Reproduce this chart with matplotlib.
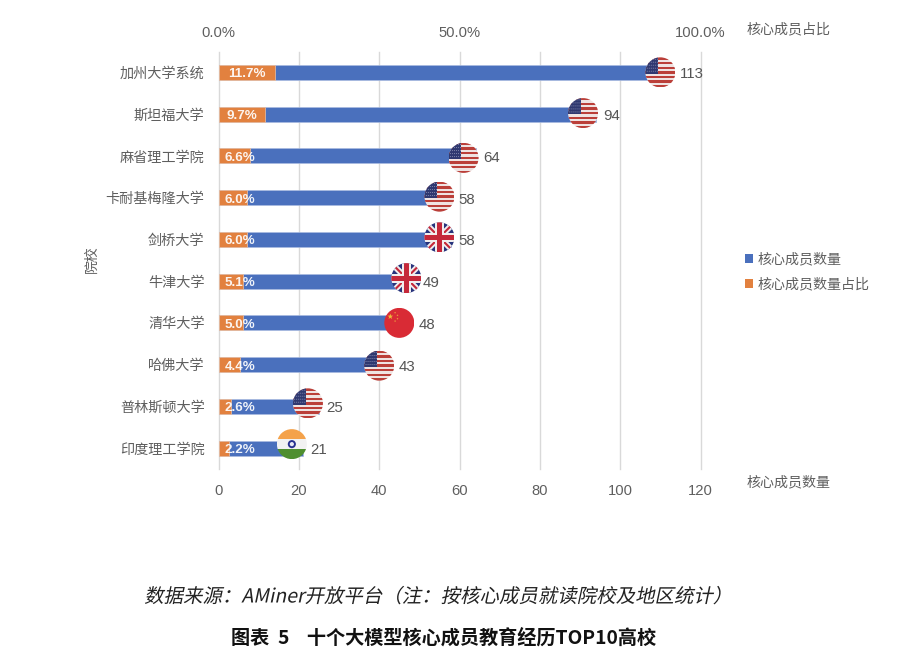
import matplotlib
matplotlib.use("Agg")
import matplotlib.pyplot as plt
from matplotlib.patches import Rectangle, Circle, Polygon
from matplotlib.path import Path
from matplotlib.transforms import Affine2D, TransformedPath
from matplotlib.patheffects import AbstractPathEffect
import numpy as np

schools = ["加州大学系统", "斯坦福大学", "麻省理工学院", "卡耐基梅隆大学", "剑桥大学",
           "牛津大学", "清华大学", "哈佛大学", "普林斯顿大学", "印度理工学院"]
members = [113, 94, 64, 58, 58, 49, 48, 43, 25, 21]
shares = [11.7, 9.7, 6.6, 6.0, 6.0, 5.1, 5.0, 4.4, 2.6, 2.2]
countries = ["us", "us", "us", "us", "uk", "uk", "cn", "us", "us", "in"]
count_ticks = [0, 20, 40, 60, 80, 100, 120]
share_ticks = [0, 50, 100]

CJK = ["Noto Sans CJK SC", "DejaVu Sans"]
LAT = ["Liberation Sans", "DejaVu Sans"]
GREY = "#5f5f5f"
BLUE = "#4a70bd"
ORANGE = "#e2813f"

W, H = 902, 666
fig = plt.figure(figsize=(W / 100, H / 100), dpi=100, facecolor="white")
L, R, T, B = 218.5, 700.5, 51.5, 469.0
ax = fig.add_axes([L / W, 1 - B / H, (R - L) / W, (B - T) / H])
ax2 = ax.twiny()
y = np.arange(len(schools))
BAR_H = 0.365

ax.barh(y, members, height=BAR_H, color=BLUE, edgecolor="#a9bbe0", linewidth=0.5, zorder=2)
ax.set_xlim(0, 120)
ax.set_ylim(len(schools) - 0.5, -0.5)
ax.set_xticks(count_ticks)
ax.set_yticks(y)
ax.set_yticklabels(schools, family=CJK, fontsize=10.2, color=GREY)
ax.tick_params(axis="y", length=0, pad=10)
ax.tick_params(axis="x", length=0, pad=10.5, labelsize=10.6, labelcolor=GREY)
for t in ax.get_xticklabels():
    t.set_family(LAT)
ax.grid(axis="x", color="#d9d9d9", linewidth=1, zorder=0)
for gl in ax.get_xgridlines():
    gl.set_clip_on(False)
ax.set_axisbelow(True)
for s in ax.spines.values():
    s.set_visible(False)

ax2.barh(y, shares, height=BAR_H, color=ORANGE, edgecolor="#f0c4a4", linewidth=0.5, zorder=3)
ax2.set_xlim(0, 100)
ax2.set_ylim(ax.get_ylim())
ax2.set_xticks(share_ticks)
ax2.set_xticklabels([f"{v:.1f}%" for v in share_ticks], family=LAT, fontsize=10.6, color=GREY)
ax2.tick_params(axis="x", length=0, pad=8)
for s in ax2.spines.values():
    s.set_visible(False)
ax2.patch.set_visible(False)

# percentage labels, centred on the orange bar but never closer than the minimum inset
for yi, p in zip(y, shares):
    ax2.text(max(p / 2, 4.5), yi + 0.05, f"{p:.1f}%", ha="center", va="center", color="white",
             fontsize=9.6, fontweight="bold", family=LAT, zorder=6, alpha=0.92)


def to_px(v, yi, dx, dy):
    px, py = ax.transData.transform((v, yi))
    return Affine2D().scale(15).translate(px + dx, py + dy)


def add(tr, clip, patch):
    patch.set_transform(tr)
    patch.set_clip_path(clip)
    patch.set_zorder(8)
    ax2.add_artist(patch)


def draw_flag(code, tr):
    clip = TransformedPath(Path.unit_circle(), tr)
    if code == "us":
        add(tr, clip, Rectangle((-1, -1), 2, 2, fc="#efe3e2", ec="none"))
        h = 2 / 13
        for i in range(0, 13, 2):
            add(tr, clip, Rectangle((-1, 1 - (i + 1) * h), 2, h, fc="#bb3f39", ec="none"))
        add(tr, clip, Rectangle((-1, 1 - 7 * h), 0.86, 7 * h, fc="#2f3870", ec="none"))
        for i in range(6):
            for j in range(5):
                add(tr, clip, Circle((-0.88 + i * 0.135, 0.88 - j * 0.2), 0.028, fc="#b8bdd6", ec="none"))
    elif code == "uk":
        add(tr, clip, Rectangle((-1, -1), 2, 2, fc="#27337c", ec="none"))
        for sgn in (1, -1):
            add(tr, clip, Polygon([(-1.1, -1.1 * sgn + 0.28 * sgn), (-1.1, -1.1 * sgn - 0.28 * sgn),
                                   (1.1, 1.1 * sgn - 0.28 * sgn), (1.1, 1.1 * sgn + 0.28 * sgn)],
                                  fc="#f1eeee", ec="none"))
            add(tr, clip, Polygon([(-1.1, -1.1 * sgn + 0.1 * sgn), (-1.1, -1.1 * sgn - 0.1 * sgn),
                                   (1.1, 1.1 * sgn - 0.1 * sgn), (1.1, 1.1 * sgn + 0.1 * sgn)],
                                  fc="#c5283a", ec="none"))
        add(tr, clip, Rectangle((-1, -0.3), 2, 0.6, fc="#f1eeee", ec="none"))
        add(tr, clip, Rectangle((-0.3, -1), 0.6, 2, fc="#f1eeee", ec="none"))
        add(tr, clip, Rectangle((-1, -0.17), 2, 0.34, fc="#c5283a", ec="none"))
        add(tr, clip, Rectangle((-0.17, -1), 0.34, 2, fc="#c5283a", ec="none"))
    elif code == "cn":
        add(tr, clip, Rectangle((-1, -1), 2, 2, fc="#d92b35", ec="none"))
        ang = np.pi / 2 + np.arange(10) * np.pi / 5
        rad = np.where(np.arange(10) % 2 == 0, 0.2, 0.08)
        add(tr, clip, Polygon(np.c_[-0.6 + rad * np.cos(ang), 0.42 + rad * np.sin(ang)], fc="#eebb3a", ec="none"))
        for sx, sy in [(-0.28, 0.68), (-0.12, 0.5), (-0.12, 0.28), (-0.28, 0.12)]:
            add(tr, clip, Circle((sx, sy), 0.05, fc="#e9913c", ec="none"))
    else:
        add(tr, clip, Rectangle((-1, 0.33), 2, 0.67, fc="#f4a24b", ec="none"))
        add(tr, clip, Rectangle((-1, -0.33), 2, 0.66, fc="#f2f2f2", ec="none"))
        add(tr, clip, Rectangle((-1, -1), 2, 0.67, fc="#4f8f2f", ec="none"))
        add(tr, clip, Circle((0, 0), 0.27, fc="#27308f", ec="none"))
        add(tr, clip, Circle((0, 0), 0.14, fc="#e8e8f4", ec="none"))


# per-flag pixel nudges relative to the bar end
nudge_x = [-12, -13, -12, -12, -12, -9, -12, -12, -11, -11]
nudge_y = [0, 1, -2, 1, 2, 3, 0, -1, 3, 4]
for yi, v, c, dx, dy in zip(y, members, countries, nudge_x, nudge_y):
    draw_flag(c, to_px(v, yi, dx, dy))
    ax2.annotate(str(v), (v * 100 / 120, yi), xytext=(5.2, -1.5), textcoords="offset points",
                 ha="left", va="center", fontsize=10.8, family=LAT, color="#555555", zorder=9)


def ftext(x, yp, s, **kw):
    return fig.text(x / W, 1 - yp / H, s, **kw)


ftext(747, 29, "核心成员占比", family=CJK, fontsize=10.1, color=GREY, ha="left", va="center")
ftext(747, 482, "核心成员数量", family=CJK, fontsize=10.1, color=GREY, ha="left", va="center")
ftext(92, 259, "院校", family=CJK, fontsize=10, color=GREY, rotation=90, ha="center", va="center")

handles = [Rectangle((0, 0), 1, 1, fc=BLUE), Rectangle((0, 0), 1, 1, fc=ORANGE)]
leg = fig.legend(handles, ["核心成员数量", "核心成员数量占比"], loc="upper left",
                 bbox_to_anchor=(735 / W, 1 - 243 / H), frameon=False, handlelength=0.6, handleheight=0.6,
                 handletextpad=0.3, labelspacing=0.78, prop={"family": CJK, "size": 10.1}, borderpad=0.2)
for t in leg.get_texts():
    t.set_color(GREY)


class Shear(AbstractPathEffect):
    def draw_path(self, renderer, gc, tpath, affine, rgbFace=None):
        renderer.draw_path(gc, tpath, Affine2D().skew_deg(12, 0) + affine, rgbFace)


cap = ftext(439, 597, "数据来源\uff1aAMiner开放平台\uff08注\uff1a按核心成员就读院校及地区统计\uff09", family=CJK,
            fontsize=14.0, color="#222222", ha="center", va="center")
cap.set_path_effects([Shear()])
ftext(444, 638, "图表  5    十个大模型核心成员教育经历TOP10高校", family=CJK, fontsize=13.8, fontweight="bold",
      color="#111111", ha="center", va="center")

fig.savefig("out.png", dpi=100)
